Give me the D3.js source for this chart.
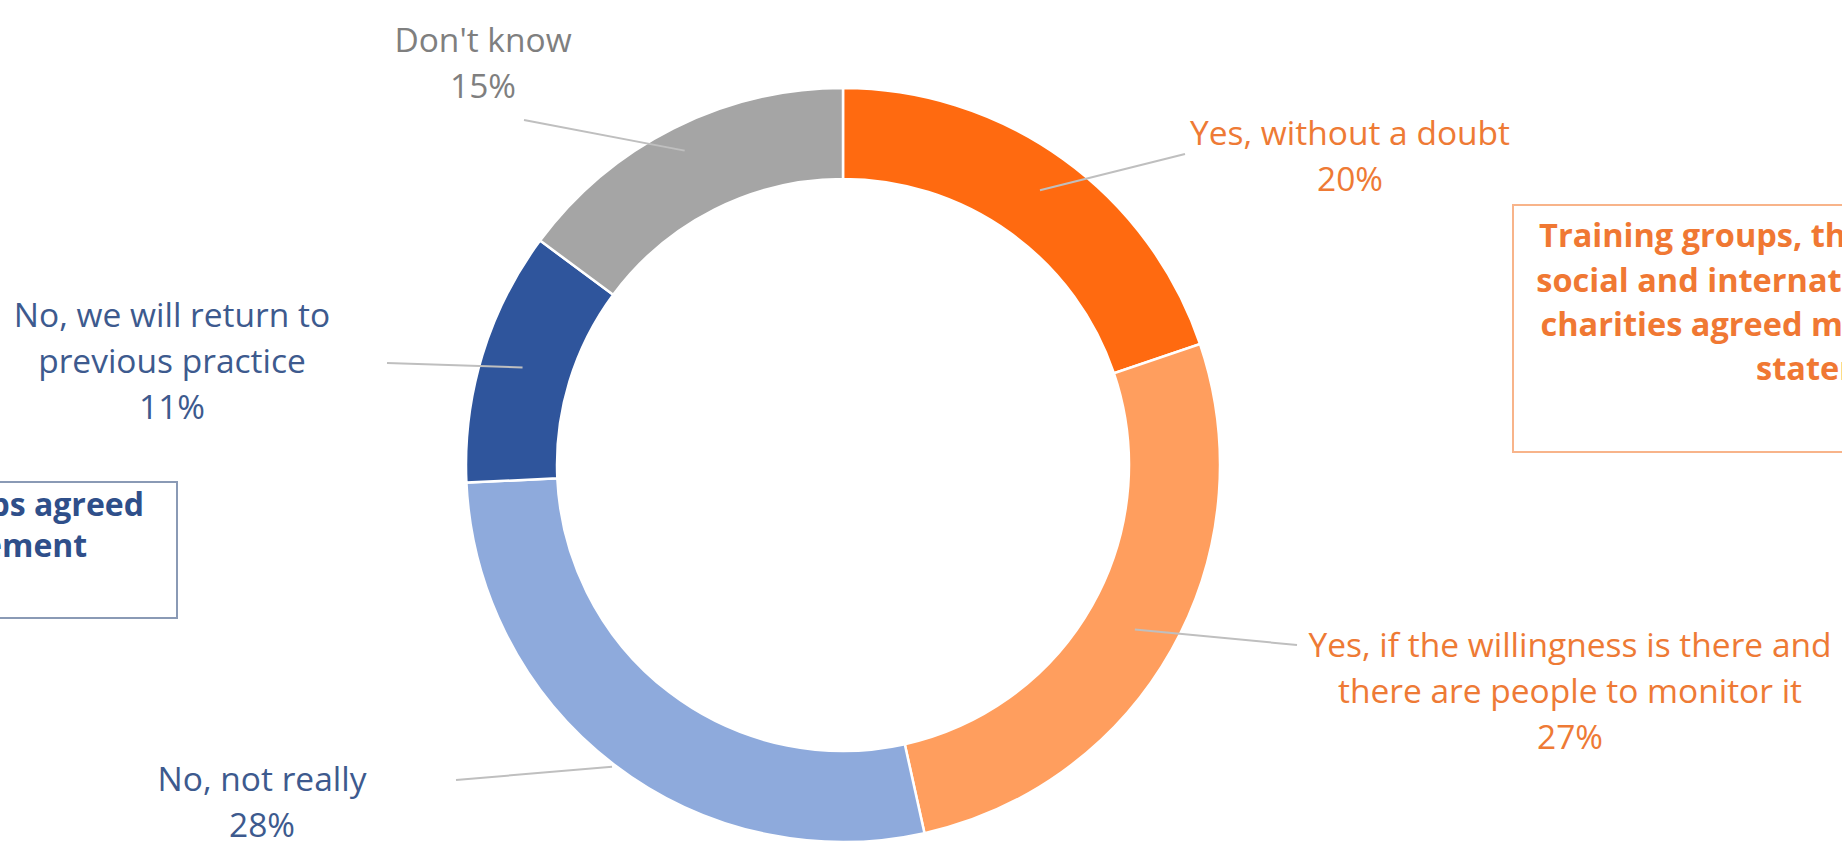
<!DOCTYPE html>
<html>
<head>
<meta charset="utf-8">
<script src="https://cdn.jsdelivr.net/npm/d3@7"></script>
<style>
  html, body { margin: 0; padding: 0; background: #fff; }
  #chart { width: 1842px; height: 848px; overflow: hidden; }
  text { font-family: "Open Sans", "Noto Sans", sans-serif; }
</style>
</head>
<body>
<div id="chart"></div>
<script>
// answers, clockwise from 12 o'clock
const categories = [
    "Yes, without a doubt",
    "Yes, if the willingness is there and\nthere are people to monitor it",
    "No, not really",
    "No, we will return to\nprevious practice",
    "Don't know"
];
const values = [20, 27, 28, 11, 15];
const percentLabels = ["20%", "27%", "28%", "11%", "15%"];

const rightNote = [
    "Training groups, the health, heritage,",
    "social and international development",
    "charities agreed much more with the",
    "statement"
];
const leftNote = [
    "Sports and faith groups agreed",
    "less with the statement"
];

const WIDTH = 1842, HEIGHT = 848;
const CENTER = { x: 843, y: 465 };
const OUTER_R = 377, INNER_R = 286;
const LINE_H = 46;

const COLORS = ["#ff6a10", "#ff9e5e", "#8eaadc", "#2f559c", "#a5a5a5"];
const TEXT_COLORS = ["#ee7a35", "#ee7a35", "#3d5a8e", "#3d5a8e", "#7f7f7f"];

// label anchor (centre of first line), outer end of the leader line,
// and the radius at which the leader meets its slice
const LABEL_POS = [
    { x: 1350, y: 133, lx: 1185, ly: 154, r: 338 },
    { x: 1570, y: 645, lx: 1297, ly: 645, r: 335 },
    { x: 262, y: 779, lx: 456, ly: 780, r: 380 },
    { x: 172, y: 315, lx: 387, ly: 363, r: 335 },
    { x: 483, y: 40, lx: 524, ly: 120, r: 352 }
];

const svg = d3.select("#chart")
    .append("svg")
    .attr("width", WIDTH)
    .attr("height", HEIGHT);

const pie = d3.pie().sort(null).value(d => d);
const arcs = pie(values);

const arc = d3.arc().innerRadius(INNER_R).outerRadius(OUTER_R);

const g = svg.append("g")
    .attr("transform", `translate(${CENTER.x}, ${CENTER.y})`);

g.selectAll("path")
    .data(arcs)
    .join("path")
    .attr("d", arc)
    .attr("fill", (d, i) => COLORS[i])
    .attr("stroke", "#fff")
    .attr("stroke-width", 2.5);

// leader lines
const leaderEnd = (d, i) => {
    const r = LABEL_POS[i].r;
    return d3.arc().innerRadius(r).outerRadius(r).centroid(d);
};

svg.append("g")
    .selectAll("line")
    .data(arcs)
    .join("line")
    .attr("x1", (d, i) => LABEL_POS[i].lx)
    .attr("y1", (d, i) => LABEL_POS[i].ly)
    .attr("x2", (d, i) => CENTER.x + leaderEnd(d, i)[0])
    .attr("y2", (d, i) => CENTER.y + leaderEnd(d, i)[1])
    .attr("stroke", "#bfbfbf")
    .attr("stroke-width", 2);

// data labels
const labels = svg.append("g")
    .selectAll("text")
    .data(arcs)
    .join("text")
    .attr("text-anchor", "middle")
    .attr("font-size", 33.5)
    .attr("fill", (d, i) => TEXT_COLORS[i]);

labels.each(function(d, i) {
    const lines = categories[i].split("\n").concat(percentLabels[i]);
    d3.select(this).selectAll("tspan")
        .data(lines)
        .join("tspan")
        .attr("x", LABEL_POS[i].x)
        .attr("y", (t, j) => LABEL_POS[i].y + j * LINE_H)
        .attr("dy", "0.35em")
        .text(t => t);
});

// note boxes
const drawNote = (lines, box, cx, y0, size, lineH, color, stroke) => {
    svg.append("rect")
        .attr("x", box.x)
        .attr("y", box.y)
        .attr("width", box.w)
        .attr("height", box.h)
        .attr("fill", "none")
        .attr("stroke", stroke)
        .attr("stroke-width", 2);

    svg.append("text")
        .attr("text-anchor", "middle")
        .attr("font-size", size)
        .attr("font-weight", 700)
        .attr("fill", color)
        .selectAll("tspan")
        .data(lines)
        .join("tspan")
        .attr("x", cx)
        .attr("y", (t, j) => y0 + j * lineH)
        .attr("dy", "0.35em")
        .text(t => t);
};

drawNote(rightNote, { x: 1513, y: 205, w: 640, h: 247 }, 1841, 236, 32.5, 44.3, "#f07833", "#f8b48a");
drawNote(leftNote, { x: -400, y: 482, w: 577, h: 136 }, -102, 505, 32, 41, "#2f4f8a", "#8a9ab5");
</script>
</body>
</html>
